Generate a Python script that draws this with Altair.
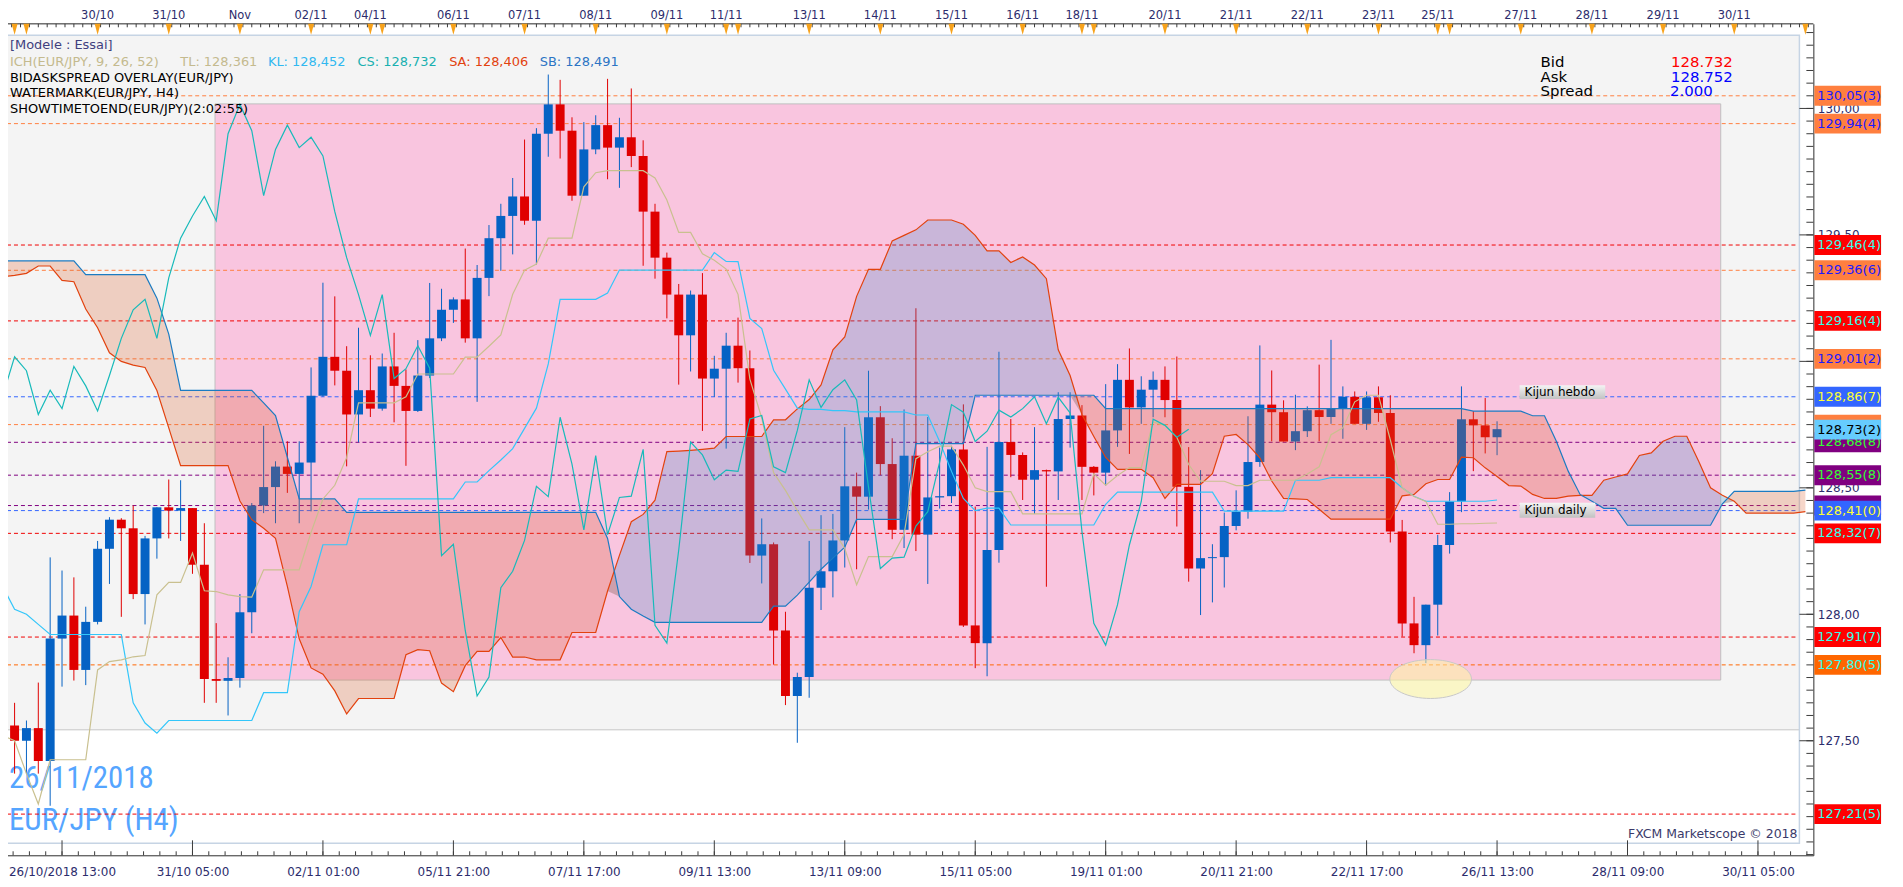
import altair as alt
import numpy as np
import pandas as pd

# ---------------------------------------------------------------- data (H4 candles, index 0..126)
OPEN = [127.57, 127.56, 127.50, 127.55, 127.42, 127.904, 127.995, 127.78, 127.97, 128.259,
        128.374, 128.34, 128.08, 128.30, 128.423, 128.41, 128.42, 128.196, 127.744, 127.737,
        127.748, 128.008, 128.43, 128.503, 128.584, 128.555, 128.60, 128.864, 129.018, 128.963,
        128.79, 128.886, 128.813, 128.98, 128.903, 128.804, 128.944, 129.091, 129.204, 129.245,
        129.091, 129.33, 129.487, 129.575, 129.652, 129.556, 129.90, 130.016, 129.912, 129.655,
        129.838, 129.934, 129.845, 129.886, 129.812, 129.592, 129.41, 129.264, 129.103, 129.264,
        128.932, 128.971, 129.062, 128.973, 128.232, 128.277, 127.936, 127.677, 127.752, 128.105,
        128.17, 128.292, 128.506, 128.465, 128.779, 128.594, 128.334, 128.627, 128.315, 128.462,
        128.467, 128.652, 127.956, 127.886, 128.254, 128.681, 128.63, 128.532, 128.57, 128.565,
        128.772, 128.786, 128.583, 128.56, 128.727, 128.927, 128.818, 128.888, 128.927, 128.847,
        128.504, 128.181, 128.222, 128.226, 128.349, 128.406, 128.602, 128.829, 128.799, 128.683,
        128.724, 128.807, 128.78, 128.813, 128.86, 128.753, 128.858, 128.796, 128.327, 127.964,
        127.878, 128.038, 128.274, 128.446, 128.771, 128.747, 128.70]
HIGH = [127.74, 127.65, 127.58, 127.73, 128.225, 128.173, 128.146, 128.03, 128.29, 128.384,
        128.38, 128.43, 128.31, 128.423, 128.533, 128.53, 128.42, 128.36, 127.965, 127.83,
        128.08, 128.44, 128.745, 128.605, 128.684, 128.684, 128.976, 129.311, 129.257, 129.06,
        129.133, 129.024, 129.031, 129.113, 128.968, 129.084, 129.31, 129.287, 129.253, 129.446,
        129.381, 129.539, 129.623, 129.725, 129.877, 129.922, 130.134, 130.113, 129.965, 129.946,
        129.973, 130.117, 129.963, 130.079, 129.874, 129.623, 129.43, 129.306, 129.28, 129.349,
        129.022, 129.113, 129.173, 129.043, 128.379, 128.284, 128.01, 127.769, 128.29, 128.392,
        128.397, 128.74, 128.56, 128.963, 128.823, 128.696, 128.81, 129.21, 128.78, 128.659,
        128.666, 128.83, 128.426, 128.662, 129.038, 128.772, 128.64, 128.74, 128.572, 128.878,
        128.878, 128.827, 128.586, 128.91, 128.989, 129.051, 128.941, 128.96, 128.98, 129.019,
        128.661, 128.57, 128.277, 128.402, 128.49, 128.783, 129.063, 128.964, 128.846, 128.868,
        128.822, 128.987, 129.085, 128.901, 128.881, 128.881, 128.901, 128.866, 128.373, 128.069,
        128.038, 128.314, 128.483, 128.901, 128.803, 128.855, 128.763]
LOW = [127.45, 127.37, 127.37, 127.37, 127.243, 127.714, 127.738, 127.72, 127.96, 128.12,
       127.99, 128.06, 127.96, 128.22, 128.30, 128.29, 128.16, 127.65, 127.65, 127.60,
       127.71, 127.925, 128.40, 128.36, 128.48, 128.36, 128.407, 128.86, 128.905, 128.585,
       128.68, 128.78, 128.805, 128.759, 128.587, 128.80, 128.934, 129.08, 129.152, 129.074,
       128.84, 129.258, 129.358, 129.423, 129.54, 129.383, 129.809, 129.802, 129.635, 129.655,
       129.819, 129.72, 129.686, 129.768, 129.378, 129.327, 129.17, 128.908, 128.96, 128.725,
       128.86, 128.655, 128.916, 128.203, 128.122, 127.801, 127.641, 127.492, 127.67, 128.017,
       128.067, 128.185, 128.178, 128.414, 128.55, 128.297, 128.262, 128.25, 128.12, 128.418,
       128.44, 127.95, 127.787, 127.755, 128.204, 128.542, 128.452, 128.397, 128.109, 128.452,
       128.659, 128.452, 128.47, 128.509, 128.662, 128.634, 128.753, 128.779, 128.779, 128.347,
       128.129, 127.997, 128.047, 128.106, 128.332, 128.378, 128.583, 128.684, 128.683, 128.649,
       128.701, 128.684, 128.753, 128.694, 128.753, 128.729, 128.761, 128.284, 127.912, 127.846,
       127.807, 127.916, 128.24, 128.404, 128.566, 128.636, 128.629]
CLOSE = [127.56, 127.50, 127.55, 127.42, 127.904, 127.995, 127.78, 127.97, 128.259, 128.374,
         128.34, 128.08, 128.30, 128.423, 128.41, 128.42, 128.196, 127.744, 127.737, 127.748,
         128.008, 128.43, 128.503, 128.584, 128.555, 128.60, 128.864, 129.018, 128.963, 128.79,
         128.886, 128.813, 128.98, 128.903, 128.804, 128.944, 129.091, 129.204, 129.245, 129.091,
         129.33, 129.487, 129.575, 129.652, 129.556, 129.90, 130.016, 129.912, 129.655, 129.838,
         129.934, 129.845, 129.886, 129.812, 129.592, 129.41, 129.264, 129.103, 129.264, 128.932,
         128.971, 129.062, 128.973, 128.232, 128.277, 127.936, 127.677, 127.752, 128.105, 128.17,
         128.292, 128.506, 128.465, 128.779, 128.594, 128.334, 128.627, 128.315, 128.462, 128.467,
         128.652, 127.956, 127.886, 128.254, 128.681, 128.63, 128.532, 128.57, 128.565, 128.772,
         128.786, 128.583, 128.56, 128.727, 128.927, 128.818, 128.888, 128.927, 128.847, 128.504,
         128.181, 128.222, 128.226, 128.349, 128.406, 128.602, 128.829, 128.799, 128.683, 128.724,
         128.807, 128.78, 128.813, 128.86, 128.753, 128.858, 128.796, 128.327, 127.964, 127.878,
         128.038, 128.274, 128.446, 128.771, 128.747, 128.70, 128.732]

# Ichimoku lines
TENKAN = [127.52, 127.50, 127.37, 127.25, 127.425, 127.425, 127.425, 127.425, 127.78, 127.813,
          127.82, 127.832, 127.837, 128.077, 128.126, 128.126, 128.242, 128.093, 128.09, 128.077,
          128.07, 128.068, 128.176, 128.176, 128.176, 128.176, 128.324, 128.456, 128.51, 128.62,
          128.836, 128.836, 128.836, 128.836, 128.86, 128.95, 128.95, 128.95, 128.95, 129.017,
          129.017, 129.06, 129.105, 129.265, 129.36, 129.385, 129.487, 129.487, 129.487, 129.69,
          129.746, 129.754, 129.754, 129.754, 129.754, 129.725, 129.638, 129.51, 129.51, 129.425,
          129.40, 129.365, 129.265, 128.93, 128.776, 128.56, 128.49, 128.41, 128.334, 128.334,
          128.334, 128.26, 128.117, 128.228, 128.228, 128.228, 128.315, 128.615, 128.643, 128.665,
          128.665, 128.59, 128.50, 128.485, 128.485, 128.485, 128.397, 128.397, 128.397, 128.397,
          128.397, 128.397, 128.555, 128.51, 128.549, 128.58, 128.58, 128.76, 128.747, 128.70,
          128.592, 128.526, 128.526, 128.526, 128.509, 128.509, 128.53, 128.53, 128.53, 128.53,
          128.555, 128.583, 128.71, 128.737, 128.84, 128.866, 128.866, 128.69, 128.50, 128.466,
          128.446, 128.356, 128.356, 128.358, 128.358, 128.36, 128.361]
KIJUN = [128.11, 128.02, 128.00, 127.96, 127.92, 127.92, 127.92, 127.92, 127.92, 127.92,
         127.92, 127.65, 127.57, 127.53, 127.58, 127.58, 127.58, 127.58, 127.58, 127.58,
         127.58, 127.58, 127.69, 127.69, 127.69, 128.01, 128.11, 128.275, 128.275, 128.275,
         128.456, 128.456, 128.456, 128.456, 128.456, 128.456, 128.456, 128.456, 128.456, 128.523,
         128.523, 128.568, 128.61, 128.655, 128.735, 128.815, 128.99, 129.245, 129.245, 129.245,
         129.245, 129.27, 129.361, 129.361, 129.361, 129.361, 129.361, 129.361, 129.361, 129.361,
         129.43, 129.395, 129.394, 129.17, 129.13, 128.965, 128.89, 128.815, 128.81, 128.81,
         128.805, 128.805, 128.80, 128.80, 128.80, 128.80, 128.80, 128.788, 128.788, 128.683,
         128.565, 128.458, 128.41, 128.42, 128.42, 128.353, 128.353, 128.353, 128.353, 128.353,
         128.353, 128.353, 128.353, 128.435, 128.483, 128.483, 128.483, 128.483, 128.483, 128.483,
         128.483, 128.483, 128.483, 128.408, 128.408, 128.408, 128.408, 128.408, 128.408, 128.53,
         128.53, 128.53, 128.54, 128.54, 128.54, 128.54, 128.54, 128.54, 128.50, 128.467,
         128.447, 128.447, 128.447, 128.447, 128.447, 128.447, 128.452]
SENKOU_A = [129.335, 129.34, 129.348, 129.377, 129.377, 129.32, 129.315, 129.207, 129.133, 129.034,
            129.00, 128.985, 128.976, 128.885, 128.737, 128.588, 128.588, 128.588, 128.588, 128.588,
            128.448, 128.374, 128.34, 128.30, 128.11, 127.903, 127.788, 127.763, 127.697, 127.606,
            127.667, 127.667, 127.667, 127.667, 127.84, 127.86, 127.856, 127.728, 127.694, 127.797,
            127.853, 127.853, 127.908, 127.831, 127.831, 127.82, 127.82, 127.82, 127.928, 127.928,
            127.928, 128.092, 128.233, 128.366, 128.395, 128.451, 128.643, 128.645, 128.648, 128.652,
            128.657, 128.703, 128.703, 128.703, 128.703, 128.769, 128.769, 128.812, 128.849, 128.907,
            129.046, 129.097, 129.257, 129.364, 129.364, 129.476, 129.498, 129.52, 129.559, 129.559,
            129.559, 129.542, 129.498, 129.437, 129.437, 129.391, 129.413, 129.381, 129.327, 129.046,
            128.944, 128.79, 128.703, 128.62, 128.573, 128.573, 128.573, 128.54, 128.458, 128.514,
            128.514, 128.514, 128.556, 128.704, 128.711, 128.671, 128.619, 128.527, 128.458, 128.456,
            128.454, 128.415, 128.376, 128.376, 128.376, 128.376, 128.376, 128.376, 128.468, 128.474,
            128.516, 128.533, 128.533, 128.621, 128.619, 128.579, 128.545, 128.509, 128.507, 128.474,
            128.458, 128.458, 128.467, 128.47, 128.47, 128.53, 128.543, 128.555, 128.628, 128.638,
            128.684, 128.704, 128.704, 128.605, 128.50, 128.471, 128.447, 128.40, 128.40, 128.40,
            128.40, 128.40, 128.406]
SENKOU_B = [129.397, 129.397, 129.397, 129.397, 129.397, 129.397, 129.397, 129.343, 129.343, 129.343,
            129.343, 129.343, 129.343, 129.25, 129.108, 128.885, 128.885, 128.885, 128.885, 128.885,
            128.885, 128.885, 128.836, 128.786, 128.621, 128.456, 128.456, 128.456, 128.456, 128.403,
            128.403, 128.403, 128.403, 128.403, 128.403, 128.403, 128.403, 128.403, 128.403, 128.403,
            128.403, 128.403, 128.403, 128.403, 128.403, 128.403, 128.403, 128.403, 128.403, 128.403,
            128.403, 128.30, 128.07, 128.02, 127.993, 127.968, 127.968, 127.968, 127.968, 127.968,
            127.968, 127.968, 127.968, 127.968, 127.968, 128.032, 128.032, 128.076, 128.127, 128.178,
            128.222, 128.265, 128.375, 128.375, 128.375, 128.375, 128.375, 128.675, 128.675, 128.675,
            128.675, 128.675, 128.866, 128.866, 128.866, 128.866, 128.866, 128.866, 128.866, 128.866,
            128.866, 128.866, 128.866, 128.813, 128.813, 128.813, 128.813, 128.813, 128.813, 128.813,
            128.813, 128.813, 128.813, 128.813, 128.813, 128.813, 128.813, 128.813, 128.813, 128.813,
            128.813, 128.813, 128.813, 128.813, 128.813, 128.813, 128.813, 128.813, 128.813, 128.813,
            128.813, 128.813, 128.813, 128.813, 128.803, 128.803, 128.803, 128.803, 128.803, 128.785,
            128.785, 128.684, 128.566, 128.474, 128.447, 128.419, 128.419, 128.352, 128.352, 128.352,
            128.352, 128.352, 128.352, 128.352, 128.352, 128.437, 128.486, 128.486, 128.486, 128.486,
            128.486, 128.486, 128.491]

# axis texts
TOP_DAY_IDX = [8, 14, 20, 26, 31, 38, 44, 50, 56, 61, 68, 74, 80, 86, 91, 98, 104, 110, 116, 121,
               128, 134, 140, 146]
TOP_DAY_LABELS = ["30/10", "31/10", "Nov", "02/11", "04/11", "06/11", "07/11", "08/11", "09/11",
                  "11/11", "13/11", "14/11", "15/11", "16/11", "18/11", "20/11", "21/11", "22/11",
                  "23/11", "25/11", "27/11", "28/11", "29/11", "30/11"]
TOP_MARKER_IDX = [0, 1, 2, 8, 14, 20, 26, 31, 32, 38, 44, 50, 56, 61, 62, 68, 74, 80, 86, 91, 92,
                  98, 104, 110, 116, 121, 122, 128, 134, 140, 146, 152]
BOTTOM_IDX = [5, 16, 27, 38, 49, 60, 71, 82, 93, 104, 115, 126, 137, 148]
BOTTOM_LABELS = ["26/10/2018 13:00", "31/10 05:00", "02/11 01:00", "05/11 21:00", "07/11 17:00",
                 "09/11 13:00", "13/11 09:00", "15/11 05:00", "19/11 01:00", "20/11 21:00",
                 "22/11 17:00", "26/11 13:00", "28/11 09:00", "30/11 05:00"]
PRICE_TICKS = [127.5, 128.0, 128.5, 129.0, 129.5, 130.0]
PRICE_LABELS_SHOWN = [127.5, 128.0, 128.5, 129.5, 130.0]   # 129,00 sits hidden under a tag

# horizontal levels
LEVEL_PRICES = [130.05, 129.94, 129.46, 129.36, 129.16, 129.01, 128.86, 128.75, 128.68, 128.55,
                128.43, 128.41, 128.32, 127.91, 127.80, 127.21]
LEVEL_COLORS = ["#ff7f3f", "#ff7f3f", "#f00000", "#ff7f3f", "#f00000", "#ff7f3f", "#3366ff",
                "#ff7f3f", "#800080", "#800080", "#800080", "#3366ff", "#f00000", "#f00000",
                "#ff6600", "#f00000"]

# price tags on the right
TAG_PRICES = [128.75, 128.68, 128.43,
              130.05, 129.94, 129.46, 129.36, 129.16, 129.01, 128.86, 128.73, 128.55, 128.41,
              128.32, 127.91, 127.80, 127.21]
TAG_TEXTS = ["", "128,68(8)", "",
             "130,05(3)", "129,94(4)", "129,46(4)", "129,36(6)", "129,16(4)", "129,01(2)",
             "128,86(7)", "128,73(2)", "128,55(8)", "128,41(0)", "128,32(7)", "127,91(7)",
             "127,80(5)", "127,21(5)"]
TAG_FILLS = ["#ff7f3f", "#800080", "#800080",
             "#ff7f3f", "#ff7f3f", "#ff0000", "#ff7f3f", "#ff0000", "#ff7f3f", "#3366ff",
             "#66ccff", "#800080", "#3366ff", "#ff0000", "#ff0000", "#ff6600", "#ff0000"]
TAG_INKS = ["#1a1aff", "#33ff33", "#33ff33",
            "#1a1aff", "#1a1aff", "#33ffee", "#1a1aff", "#33ffee", "#1a1aff", "#ffff33",
            "#000000", "#33ff33", "#ffff33", "#33ffee", "#33ffee", "#33ffee", "#33ffee"]
TAG_BACK = [True, True, True] + [False] * 14

KIJUN_TEXTS = ["Kijun hebdo", "Kijun daily"]
KIJUN_BOX_I0 = [127.9, 127.9]
KIJUN_BOX_I1 = [135.12, 134.28]
KIJUN_BOX_TOP = [128.906, 128.441]
KIJUN_BOX_BOT = [128.851, 128.382]

ZONE = {"i0": 17.9, "i1": 144.86, "p0": 127.74, "p1": 130.018}
LOW_MARK = {"i": 120.4, "p": 127.744}

# ---------------------------------------------------------------- scales / helpers
W, H = 1821, 835
TOP = 22  # reference y of the plot top
XS = alt.Scale(domain=[-0.2267, 152.67], nice=False, zero=False, padding=0)
YS = alt.Scale(domain=[127.04724, 130.33465], nice=False, zero=False, padding=0)
BLUE, RED = "#0562c4", "#e00000"
FONT = "DejaVu Sans"
dummy = pd.DataFrame({"d": [0]})

label_array = "[" + ",".join("'" + s + "'" for s in BOTTOM_LABELS) + "]"
X_AXIS = alt.Axis(orient="bottom", values=BOTTOM_IDX,
                  labelExpr=label_array + "[round((datum.value - 5) / 11)]",
                  ticks=False, grid=False, title=None, domainColor="#3a3a3a",
                  labelColor="#2c2c6c", labelFont=FONT, labelFontSize=12, labelPadding=11,
                  labelOverlap=False, labelFlush=False)
Y_AXIS = alt.Axis(orient="right", values=PRICE_LABELS_SHOWN,
                  labelExpr="replace(format(datum.value, '.2f'), '.', ',')",
                  ticks=False, grid=False, title=None, domainColor="#3a3a3a",
                  labelColor="#2c2c6c", labelFont=FONT, labelFontSize=12, labelPadding=4,
                  labelOverlap=False, labelFlush=False)


def px_rect(x0, x1, y0, y1, **kw):
    return alt.Chart(dummy).mark_rect(**kw).encode(
        x=alt.value(x0), x2=alt.value(x1), y=alt.value(y0 - TOP), y2=alt.value(y1 - TOP))


def px_rule(x0, x1, y0, y1, **kw):
    return alt.Chart(dummy).mark_rule(**kw).encode(
        x=alt.value(x0), x2=alt.value(x1), y=alt.value(y0 - TOP), y2=alt.value(y1 - TOP))


def px_text(s, x, y, color, size=13, align="left", font=FONT, weight="normal"):
    return alt.Chart(dummy).mark_text(
        text=s, align=align, baseline="alphabetic", fontSize=size, font=font,
        color=color, fontWeight=weight).encode(x=alt.value(x), y=alt.value(y - TOP))


def X(field):
    return alt.X(field, type="quantitative", scale=XS, axis=X_AXIS)


def Y(field):
    return alt.Y(field, type="quantitative", scale=YS, axis=Y_AXIS)


# ---------------------------------------------------------------- frames
layers = []
layers.append(px_rect(0, 1807, 34, 731, fill="#f4f4f4"))
layers.append(px_rule(0, 1807, 731, 731, color="#c6c6c6", strokeWidth=1))
layers.append(px_rect(0, 1807, 33.5, 845, fill=None, fillOpacity=0, stroke="#c6d4e4", strokeWidth=1.5))

zone_df = pd.DataFrame([ZONE])
layers.append(alt.Chart(zone_df).mark_rect(fill="#f9c5df", stroke="#c0c0c0", strokeWidth=1).encode(
    x=X("i0"), x2="i1:Q", y=Y("p1"), y2="p0:Q"))

WM_FONT = "Roboto Condensed, Liberation Sans, sans-serif"
layers.append(px_text("26/11/2018", 9, 789, "#55a5ff", size=31, font=WM_FONT))
layers.append(px_text("EUR/JPY (H4)", 9, 832, "#55a5ff", size=31, font=WM_FONT))

lvl_df = pd.DataFrame({"p": LEVEL_PRICES, "col": LEVEL_COLORS})
layers.append(alt.Chart(lvl_df).mark_rule(strokeDash=[4, 3], strokeWidth=1).encode(
    y=Y("p"), x=alt.value(0), x2=alt.value(1803), color=alt.Color("col:N", scale=None)))

# ---------------------------------------------------------------- candles
cdf = pd.DataFrame({"i": list(range(len(CLOSE))), "o": OPEN, "h": HIGH, "l": LOW, "c": CLOSE})
cdf["dir"] = np.where(cdf["c"] >= cdf["o"], "up", "down")
cdf["cs_i"] = cdf["i"] - 26
ccol = alt.Color("dir:N", scale=alt.Scale(domain=["up", "down"], range=[BLUE, RED]), legend=None)
layers.append(alt.Chart(cdf).mark_rule(strokeWidth=1).encode(x=X("i"), y=Y("l"), y2="h:Q", color=ccol))
layers.append(alt.Chart(cdf).mark_bar(size=9).encode(x=X("i"), y=Y("o"), y2="c:Q", color=ccol))

# ---------------------------------------------------------------- cloud
kdf = pd.DataFrame({"i": list(range(len(SENKOU_A))), "sa": SENKOU_A, "sb": SENKOU_B})
layers.append(alt.Chart(kdf).transform_calculate(lo="min(datum.sa, datum.sb)").mark_area(
    color="#3a8cc8", opacity=0.25).encode(x=X("i"), y=Y("sa"), y2="lo:Q"))
layers.append(alt.Chart(kdf).transform_calculate(lo="min(datum.sa, datum.sb)").mark_area(
    color="#da5a28", opacity=0.25).encode(x=X("i"), y=Y("sb"), y2="lo:Q"))
layers.append(alt.Chart(kdf).mark_line(color="#e2420e", strokeWidth=1.2).encode(x=X("i"), y=Y("sa")))
layers.append(alt.Chart(kdf).mark_line(color="#1b7bc2", strokeWidth=1.2).encode(x=X("i"), y=Y("sb")))

idf = pd.DataFrame({"i": list(range(len(TENKAN))), "tl": TENKAN, "kl": KIJUN})
layers.append(alt.Chart(idf).mark_line(color="#33c6fa", strokeWidth=1.2).encode(x=X("i"), y=Y("kl")))
layers.append(alt.Chart(idf).mark_line(color="#c9c08f", strokeWidth=1.2).encode(x=X("i"), y=Y("tl")))
layers.append(alt.Chart(cdf[cdf["cs_i"] >= -1]).mark_line(color="#17baba", strokeWidth=1.2).encode(
    x=X("cs_i"), y=Y("c")))

# ---------------------------------------------------------------- annotations
ELLIPSE = "M -1 0 A 1 0.4756 0 1 1 1 0 A 1 0.4756 0 1 1 -1 0 Z"
layers.append(alt.Chart(pd.DataFrame([LOW_MARK])).mark_point(
    shape=ELLIPSE, size=6724, filled=True, fill="#fff8a0", fillOpacity=0.55,
    stroke="#c8c8c8", strokeWidth=1, strokeOpacity=1, opacity=1).encode(x=X("i"), y=Y("p")))

kj = pd.DataFrame({"t": KIJUN_TEXTS, "i0": KIJUN_BOX_I0, "i1": KIJUN_BOX_I1,
                   "top": KIJUN_BOX_TOP, "bot": KIJUN_BOX_BOT})
kj["mid"] = (kj["top"] + kj["bot"]) / 2
grad = alt.Gradient(gradient="linear", x1=0, x2=0, y1=0, y2=1,
                    stops=[alt.GradientStop(color="#f4f4f4", offset=0),
                           alt.GradientStop(color="#c2c2c2", offset=1)])
layers.append(alt.Chart(kj).mark_rect(fill=grad).encode(x=X("i0"), x2="i1:Q", y=Y("top"), y2="bot:Q"))
layers.append(alt.Chart(kj).mark_text(align="left", baseline="middle", fontSize=12, font=FONT,
                                      color="#000000", dx=5).encode(x=X("i0"), y=Y("mid"), text="t:N"))

# ---------------------------------------------------------------- axis decorations
layers.append(px_rule(0, 1821, TOP, TOP, color="#3a3a3a", strokeWidth=1))
top_ticks = pd.DataFrame({"i": np.arange(0, 152.7, 0.75)})
layers.append(alt.Chart(top_ticks).mark_rule(color="#3a3a3a", strokeWidth=1).encode(
    x=X("i"), y=alt.value(0), y2=alt.value(3.5)))
TRI = "M -0.55 -1 L 0.55 -1 L 0 1 Z"
layers.append(alt.Chart(pd.DataFrame({"i": TOP_MARKER_IDX})).mark_point(
    shape=TRI, size=121, filled=True, fill="#f7a21b", strokeWidth=0, opacity=1).encode(
    x=X("i"), y=alt.value(5.5)))
layers.append(alt.Chart(pd.DataFrame({"i": TOP_DAY_IDX, "t": TOP_DAY_LABELS})).mark_text(
    align="center", baseline="alphabetic", fontSize=11.5, font=FONT, color="#2c2c6c").encode(
    x=X("i"), y=alt.value(17 - TOP), text="t:N"))

bot_minor = pd.DataFrame({"i": np.arange(0.875, 152.6, 1.375)})
layers.append(alt.Chart(bot_minor).mark_rule(color="#3a3a3a", strokeWidth=1).encode(
    x=X("i"), y=alt.value(853 - TOP), y2=alt.value(857 - TOP)))
layers.append(alt.Chart(pd.DataFrame({"i": BOTTOM_IDX})).mark_rule(color="#3a3a3a", strokeWidth=1).encode(
    x=X("i"), y=alt.value(842 - TOP), y2=alt.value(857 - TOP)))
right_minor = pd.DataFrame({"p": np.round(np.arange(127.05, 130.31, 0.05), 2)})
layers.append(alt.Chart(right_minor).mark_rule(color="#3a3a3a", strokeWidth=1).encode(
    y=Y("p"), x=alt.value(1814), x2=alt.value(1821)))
layers.append(alt.Chart(pd.DataFrame({"p": PRICE_TICKS})).mark_rule(color="#3a3a3a", strokeWidth=1).encode(
    y=Y("p"), x=alt.value(1807), x2=alt.value(1821)))

# ---------------------------------------------------------------- price tags
tags = pd.DataFrame({"p": TAG_PRICES, "t": TAG_TEXTS, "f": TAG_FILLS, "k": TAG_INKS, "back": TAG_BACK})
tags["top"] = tags["p"] + 10 / 254
tags["bot"] = tags["p"] - 10 / 254
for part in (tags[tags["back"]], tags[~tags["back"]]):
    layers.append(alt.Chart(part).mark_rect().encode(
        x=alt.value(1822), x2=alt.value(1889), y=Y("top"), y2="bot:Q",
        fill=alt.Fill("f:N", scale=None)))
    layers.append(alt.Chart(part).mark_text(align="left", baseline="middle", fontSize=13, font=FONT).encode(
        x=alt.value(1825), y=Y("p"), text="t:N", color=alt.Color("k:N", scale=None)))

# ---------------------------------------------------------------- texts
layers.append(px_text("[Modele : Essai]", 10, 47, "#40407e"))
layers.append(px_text("ICH(EUR/JPY, 9, 26, 52)", 10, 64, "#c4ba8e"))
layers.append(px_text("TL: 128,361", 181, 64, "#c4ba8e"))
layers.append(px_text("KL: 128,452", 269, 64, "#30b8f0"))
layers.append(px_text("CS: 128,732", 359, 64, "#18b0b0"))
layers.append(px_text("SA: 128,406", 451, 64, "#e2420e"))
layers.append(px_text("SB: 128,491", 542, 64, "#2c74c4"))
layers.append(px_text("BIDASKSPREAD OVERLAY(EUR/JPY)", 10, 80, "#000000"))
layers.append(px_text("WATERMARK(EUR/JPY, H4)", 10, 96, "#000000"))
layers.append(px_text("SHOWTIMETOEND(EUR/JPY)(2:02:55)", 10, 112, "#000000"))
layers.append(px_text("Bid", 1547, 65, "#000000", size=15))
layers.append(px_text("Ask", 1547, 80, "#000000", size=15))
layers.append(px_text("Spread", 1547, 95, "#000000", size=15))
layers.append(px_text("128.732", 1678, 65, "#ff0000", size=15))
layers.append(px_text("128.752", 1678, 80, "#0000ff", size=15))
layers.append(px_text("2.000", 1677, 95, "#0000ff", size=15))
layers.append(px_text("FXCM Marketscope \u00a9 2018", 1805, 840, "#3a3a6a", size=12.5, align="right"))

chart = alt.layer(*layers).properties(
    width=W, height=H,
    autosize=alt.AutoSizeParams(type="none"),
    padding={"left": -8, "top": 14, "right": 82, "bottom": 30},
).configure_view(stroke=None).configure(background="white")

chart.save("out.html", embed_options={"renderer": "svg", "actions": False})
